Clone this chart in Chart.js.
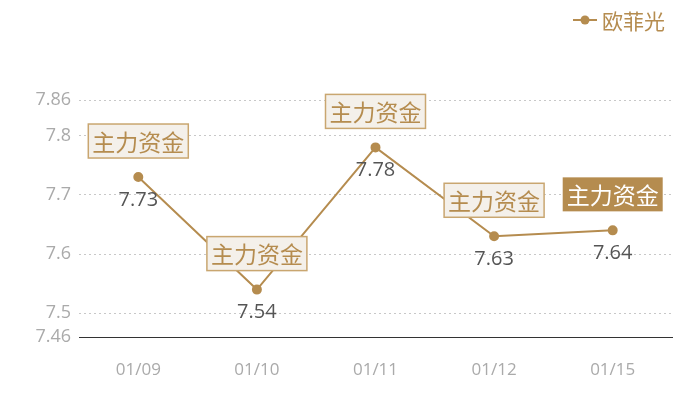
<!DOCTYPE html>
<html><head><meta charset="utf-8">
<script src="https://cdn.jsdelivr.net/npm/chart.js@4"></script>
<style>html,body{margin:0;padding:0;background:#fff}#wrap{width:700px;height:400px}</style>
</head><body><div id="wrap"><canvas id="c" width="700" height="400"></canvas></div>
<script>
const categories = ['01/09','01/10','01/11','01/12','01/15'];
const seriesName = '欧菲光';
const values = [7.73, 7.54, 7.78, 7.63, 7.64];
const yTicks = [7.46, 7.5, 7.6, 7.7, 7.8, 7.86];
const annotationText = '主力资金';
const highlighted = [false, false, false, false, true];

const GOLD = '#b58c4f';
const FONT = '"Noto Sans CJK SC","Noto Sans",sans-serif';
const NUMFONT = '"Open Sans","Noto Sans CJK SC",sans-serif';

const overlay = {
  id: 'overlay',
  afterDatasetsDraw(chart) {
    const ctx = chart.ctx;
    const meta = chart.getDatasetMeta(0);
    ctx.save();
    meta.data.forEach((pt, i) => {
      const x = pt.x, y = pt.y;
      // value label
      ctx.font = '20px ' + NUMFONT;
      ctx.fillStyle = '#555';
      ctx.textAlign = 'center';
      ctx.textBaseline = 'middle';
      ctx.fillText(values[i].toFixed(2), x, y + 23);
      // annotation box
      const w = 100, h = 34, cy = y - 36;
      if (highlighted[i]) {
        ctx.fillStyle = GOLD;
        ctx.fillRect(x - w/2, cy - h/2, w, h);
        ctx.fillStyle = '#fff';
      } else {
        ctx.fillStyle = '#f4f0ea';
        ctx.fillRect(x - w/2, cy - h/2, w, h);
        ctx.strokeStyle = '#c9a670';
        ctx.lineWidth = 1.5;
        ctx.strokeRect(x - w/2, cy - h/2, w, h);
        ctx.fillStyle = GOLD;
      }
      ctx.font = '23px ' + FONT;
      ctx.fillText(annotationText, x, cy + 1);
    });
    // legend
    const ly = 20;
    ctx.strokeStyle = GOLD; ctx.lineWidth = 2;
    ctx.beginPath(); ctx.moveTo(573, ly); ctx.lineTo(597, ly); ctx.stroke();
    ctx.fillStyle = GOLD;
    ctx.beginPath(); ctx.arc(585, ly, 4.5, 0, Math.PI*2); ctx.fill();
    ctx.font = '21px ' + FONT;
    ctx.textAlign = 'left';
    ctx.fillText(seriesName, 602, ly + 1);
    ctx.restore();
  }
};

new Chart(document.getElementById('c'), {
  type: 'line',
  data: {
    labels: categories,
    datasets: [{
      label: seriesName,
      data: values,
      borderColor: GOLD,
      backgroundColor: GOLD,
      borderWidth: 2,
      pointRadius: 4,
      pointHoverRadius: 4,
      tension: 0
    }]
  },
  options: {
    responsive: false,
    animation: false,
    layout: { padding: { top: 100, right: 28, bottom: 0, left: 0 } },
    plugins: { legend: { display: false }, tooltip: { enabled: false } },
    scales: {
      x: {
        offset: true,
        grid: { display: false, drawTicks: false },
        border: { display: true, color: '#333', width: 1 },
        ticks: { color: '#aaa', font: { size: 17, family: NUMFONT }, padding: 23 },
        afterFit(s) { s.height = 63; }
      },
      y: {
        min: 7.46, max: 7.86,
        afterBuildTicks(s) { s.ticks = yTicks.map(v => ({ value: v })); },
        grid: {
          drawTicks: false,
          color: c => (c.tick && c.tick.value === 7.46) ? 'rgba(0,0,0,0)' : '#c8c8c8',
          lineWidth: 1
        },
        border: { display: false, dash: [2, 3] },
        ticks: {
          color: '#aaa', font: { size: 18, family: NUMFONT }, padding: 8,
          callback: v => String(+v.toFixed(2))
        },
        afterFit(s) { s.width = 79; }
      }
    }
  },
  plugins: [overlay]
});
</script></body></html>
